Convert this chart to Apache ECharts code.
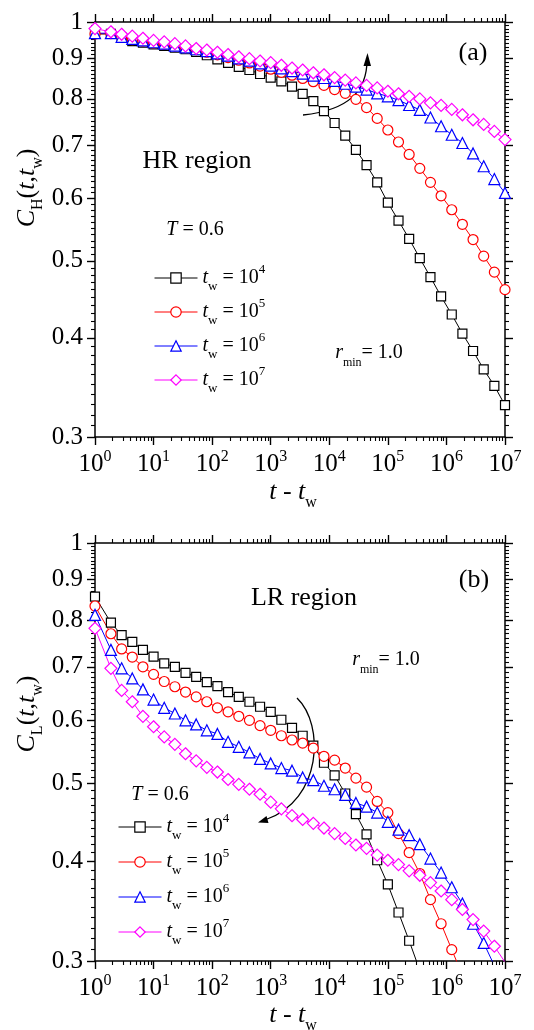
<!DOCTYPE html>
<html>
<head>
<meta charset="utf-8">
<script src="https://cdn.jsdelivr.net/npm/echarts@6/dist/echarts.min.js"></script>
<style>
html,body{margin:0;padding:0;background:#fff;}
#c{width:534px;height:1030px;}
</style>
</head>
<body>
<div id="c"></div>
<script>
// ---------- data ----------
const tValues = [1, 1.87, 2.85, 4.33, 6.58, 10, 15.2, 23.1, 35.1, 53.4, 81.1, 123, 187, 285, 433, 658,
  1000, 1520, 2310, 3511, 5337, 8111, 12328, 18738, 28480, 43288, 65793, 100000, 152000, 231000,
  351100, 533700, 811100, 1233000, 1874000, 2848000, 4329000, 6580000, 10000000];

// panel (a): HR region
const hrTw4 = [0.966,0.966,0.955,0.946,0.942,0.937,0.933,0.928,0.924,0.917,0.908,0.897,0.888,0.878,0.870,0.860,0.851,0.842,0.829,0.812,0.795,0.772,0.746,0.719,0.690,0.660,0.628,0.592,0.562,0.533,0.504,0.477,0.451,0.428,0.405,0.385,0.365,0.348,0.329];
const hrTw5 = [0.966,0.967,0.957,0.950,0.946,0.941,0.937,0.933,0.928,0.923,0.916,0.909,0.902,0.895,0.888,0.880,0.872,0.864,0.857,0.849,0.841,0.832,0.822,0.813,0.799,0.780,0.756,0.731,0.706,0.681,0.654,0.628,0.604,0.580,0.556,0.532,0.507,0.484,0.460];
const hrTw6 = [0.968,0.968,0.958,0.952,0.948,0.943,0.939,0.934,0.929,0.924,0.919,0.913,0.907,0.900,0.894,0.887,0.881,0.874,0.867,0.861,0.856,0.850,0.843,0.836,0.829,0.822,0.813,0.806,0.797,0.786,0.775,0.758,0.739,0.721,0.704,0.683,0.658,0.634,0.609];
const hrTw7 = [0.981,0.972,0.965,0.960,0.954,0.948,0.944,0.939,0.933,0.926,0.922,0.916,0.910,0.904,0.899,0.893,0.889,0.882,0.875,0.870,0.863,0.858,0.851,0.845,0.838,0.832,0.826,0.818,0.812,0.806,0.800,0.791,0.785,0.776,0.764,0.753,0.743,0.728,0.711];

// panel (b): LR region
const lrTw4 = [0.857,0.795,0.767,0.752,0.735,0.721,0.707,0.700,0.688,0.680,0.670,0.662,0.651,0.642,0.633,0.624,0.615,0.601,0.587,0.574,0.558,0.531,0.512,0.486,0.458,0.432,0.401,0.374,0.345,0.318,0.292];
const lrTw5 = [0.834,0.770,0.737,0.720,0.700,0.685,0.671,0.661,0.651,0.642,0.633,0.622,0.615,0.607,0.600,0.591,0.583,0.574,0.567,0.562,0.554,0.541,0.535,0.523,0.508,0.495,0.475,0.460,0.433,0.410,0.386,0.358,0.334,0.310,0.288];
const lrTw6 = [0.813,0.735,0.697,0.677,0.656,0.637,0.622,0.612,0.600,0.593,0.583,0.577,0.564,0.556,0.547,0.537,0.530,0.523,0.519,0.509,0.505,0.497,0.492,0.484,0.473,0.468,0.460,0.448,0.438,0.431,0.420,0.403,0.387,0.371,0.354,0.334,0.316,0.296];
const lrTw7 = [0.782,0.697,0.654,0.633,0.607,0.589,0.572,0.560,0.545,0.534,0.524,0.517,0.506,0.499,0.492,0.485,0.474,0.465,0.456,0.451,0.446,0.440,0.433,0.427,0.419,0.415,0.407,0.401,0.396,0.389,0.384,0.376,0.367,0.358,0.348,0.338,0.327,0.313,0.299];

const twExponents = ['4', '5', '6', '7'];
const xTickValues = [1, 10, 100, 1000, 10000, 100000, 1000000, 10000000];
const xTickExps = ['0', '1', '2', '3', '4', '5', '6', '7'];
const yTickValues = [0.3, 0.4, 0.5, 0.6, 0.7, 0.8, 0.9, 1];
const yTickLabels = ['0.3', '0.4', '0.5', '0.6', '0.7', '0.8', '0.9', '1'];

// ---------- styling ----------
const FONT = 'Liberation Serif';
const colors = ['#000000', '#ff0000', '#0000ff', '#ff00ff'];
const symbols = ['rect', 'circle', 'triangle', 'diamond'];
const symSizes = [9, 10, 11, 12];

const minorX = [];
for (let d = 0; d < 7; d++) for (let k = 2; k <= 9; k++) minorX.push(k * Math.pow(10, d));
const minorY = [];
for (let k = 31; k < 100; k++) if (k % 10 !== 0) minorY.push(k / 100);

const grids = [
  {left: 95, top: 22, width: 410, height: 415, containLabel: false, outerBoundsMode: 'none'},
  {left: 95, top: 543, width: 410, height: 418, containLabel: false, outerBoundsMode: 'none'}
];

const axisLineStyle = {color: '#000', width: 1.5};
const tickStyle = {color: '#000', width: 1.4};
const minorStyle = {color: '#000', width: 1.1};

function xAxesFor(g) {
  const base = {type: 'log', logBase: 10, min: 1, max: 1e7, gridIndex: g, splitLine: {show: false}, minorTick: {show: false}};
  return [
    Object.assign({}, base, {
      position: 'bottom',
      axisLine: {show: true, lineStyle: axisLineStyle},
      axisTick: {show: true, inside: false, length: 8, customValues: xTickValues, lineStyle: tickStyle},
      axisLabel: {
        show: true, margin: 12, customValues: xTickValues,
        formatter: function (v) {
          const i = xTickValues.findIndex(function (x) { return Math.abs(Math.log10(x) - Math.log10(v)) < 1e-6; });
          return '{b|10}{p|' + xTickExps[i] + '}';
        },
        rich: {
          b: {fontFamily: FONT, fontSize: 25, lineHeight: 30, color: '#000'},
          p: {fontFamily: FONT, fontSize: 16, lineHeight: 16, verticalAlign: 'top', color: '#000'}
        }
      }
    }),
    Object.assign({}, base, {
      position: 'bottom',
      axisLine: {show: false},
      axisTick: {show: true, inside: false, length: 4, customValues: minorX, lineStyle: minorStyle},
      axisLabel: {show: false}
    }),
    Object.assign({}, base, {
      position: 'top',
      axisLine: {show: true, lineStyle: axisLineStyle},
      axisTick: {show: true, inside: false, length: 8, customValues: xTickValues, lineStyle: tickStyle},
      axisLabel: {show: false}
    }),
    Object.assign({}, base, {
      position: 'top',
      axisLine: {show: false},
      axisTick: {show: true, inside: false, length: 4, customValues: minorX, lineStyle: minorStyle},
      axisLabel: {show: false}
    })
  ];
}

function yAxesFor(g) {
  const base = {type: 'log', logBase: 10, min: 0.3, max: 1, gridIndex: g, splitLine: {show: false}, minorTick: {show: false}};
  return [
    Object.assign({}, base, {
      position: 'left',
      axisLine: {show: true, lineStyle: axisLineStyle},
      axisTick: {show: true, inside: false, length: 8, customValues: yTickValues, lineStyle: tickStyle},
      axisLabel: {
        show: true, margin: 12, customValues: yTickValues,
        fontFamily: FONT, fontSize: 25, color: '#000',
        formatter: function (v) {
          const i = yTickValues.findIndex(function (x) { return Math.abs(x - v) < 1e-6; });
          return yTickLabels[i];
        }
      }
    }),
    Object.assign({}, base, {
      position: 'left',
      axisLine: {show: false},
      axisTick: {show: true, inside: false, length: 4, customValues: minorY, lineStyle: minorStyle},
      axisLabel: {show: false}
    }),
    Object.assign({}, base, {
      position: 'right',
      axisLine: {show: true, lineStyle: axisLineStyle},
      axisTick: {show: true, inside: false, length: 8, customValues: yTickValues, lineStyle: tickStyle},
      axisLabel: {show: false}
    }),
    Object.assign({}, base, {
      position: 'right',
      axisLine: {show: false},
      axisTick: {show: true, inside: false, length: 4, customValues: minorY, lineStyle: minorStyle},
      axisLabel: {show: false}
    })
  ];
}

function mkSeries(name, vals, k, g) {
  return {
    name: name, type: 'line',
    xAxisIndex: g * 4, yAxisIndex: g * 4,
    data: vals.map(function (v, i) { return [tValues[i], v]; }),
    symbol: symbols[k], symbolSize: symSizes[k], showAllSymbol: true,
    lineStyle: {color: colors[k], width: 1},
    itemStyle: {color: '#ffffff', borderColor: colors[k], borderWidth: 1.2},
    emphasis: {disabled: true},
    clip: true, animation: false
  };
}

const hrSets = [hrTw4, hrTw5, hrTw6, hrTw7];
const lrSets = [lrTw4, lrTw5, lrTw6, lrTw7];
const series = [];
const legendText = {};
for (let k = 0; k < 4; k++) {
  series.push(mkSeries('a' + twExponents[k], hrSets[k], k, 0));
  legendText['a' + twExponents[k]] = '{i|t}{w|w}{n| = 10}{p|' + twExponents[k] + '}';
}
for (let k = 0; k < 4; k++) {
  series.push(mkSeries('b' + twExponents[k], lrSets[k], k, 1));
  legendText['b' + twExponents[k]] = '{i|t}{w|w}{n| = 10}{p|' + twExponents[k] + '}';
}

const legRich = {
  i: {fontFamily: FONT, fontStyle: 'italic', fontSize: 20, lineHeight: 30, color: '#000'},
  n: {fontFamily: FONT, fontSize: 20, lineHeight: 30, color: '#000'},
  w: {fontFamily: FONT, fontSize: 13, lineHeight: 12, verticalAlign: 'bottom', color: '#000'},
  p: {fontFamily: FONT, fontSize: 13, lineHeight: 20, verticalAlign: 'top', color: '#000'}
};
function mkLegend(left, top, gap, names) {
  return {
    show: true, orient: 'vertical', left: left, top: top, itemWidth: 43, itemHeight: 13, itemGap: gap,
    selectedMode: false, padding: 0, data: names,
    itemStyle: {borderWidth: 1.2},
    lineStyle: {width: 1},
    formatter: function (n) { return legendText[n]; },
    textStyle: {fontFamily: FONT, fontSize: 20, color: '#000', rich: legRich}
  };
}

function richText(S) {
  return {
    i: {fontFamily: FONT, fontStyle: 'italic', fontSize: S, lineHeight: S + 12, fill: '#000'},
    n: {fontFamily: FONT, fontSize: S, lineHeight: S + 12, fill: '#000'},
    s: {fontFamily: FONT, fontSize: Math.round(S * 0.62), lineHeight: Math.round(S * 0.6), verticalAlign: 'bottom', fill: '#000'}
  };
}
function txt(x, y, text, S, rot) {
  return {
    type: 'text', x: x, y: y, rotation: rot || 0, silent: true,
    style: {text: text, rich: richText(S), fontFamily: FONT, fontSize: S, fill: '#000', align: 'center', verticalAlign: 'middle'}
  };
}
function plain(x, y, text, S) {
  return {type: 'text', x: x, y: y, silent: true,
    style: {text: text, fontFamily: FONT, fontSize: S, fill: '#000', align: 'center', verticalAlign: 'middle'}};
}

const graphics = [
  plain(473, 53, '(a)', 26),
  plain(197, 161, 'HR region', 26),
  txt(195, 230, '{i|T}{n| = 0.6}', 20),
  txt(369, 353, '{i|r}{s|min}{n|= 1.0}', 20),
  txt(293, 492, '{i|t}{n| - }{i|t}{s|w}', 26),
  txt(27, 188, '{i|C}{s|H}{n|(}{i|t}{n|,}{i|t}{s|w}{n|)}', 26, Math.PI / 2),
  {type: 'bezierCurve', silent: true,
   shape: {x1: 303, y1: 115, x2: 367, y2: 60, cpx1: 350, cpy1: 110, cpx2: 367, cpy2: 90},
   style: {stroke: '#000', lineWidth: 1.3, fill: null}},
  {type: 'polygon', silent: true, shape: {points: [[367.5, 53], [363.5, 66], [371, 66]]}, style: {fill: '#000'}},

  plain(474, 580, '(b)', 26),
  plain(304, 598, 'LR region', 26),
  txt(386, 660, '{i|r}{s|min}{n|= 1.0}', 20),
  txt(160, 795, '{i|T}{n| = 0.6}', 20),
  txt(293, 1015, '{i|t}{n| - }{i|t}{s|w}', 26),
  txt(27, 714, '{i|C}{s|L}{n|(}{i|t}{n|,}{i|t}{s|w}{n|)}', 26, Math.PI / 2),
  {type: 'bezierCurve', silent: true,
   shape: {x1: 297, y1: 698, x2: 266, y2: 819.5, cpx1: 325, cpy1: 725, cpx2: 322, cpy2: 800},
   style: {stroke: '#000', lineWidth: 1.3, fill: null}},
  {type: 'polygon', silent: true, shape: {points: [[258, 822.5], [268.5, 823], [266.5, 816]]}, style: {fill: '#000'}}
];

const option = {
  animation: false,
  backgroundColor: '#ffffff',
  grid: grids,
  xAxis: xAxesFor(0).concat(xAxesFor(1)),
  yAxis: yAxesFor(0).concat(yAxesFor(1)),
  legend: [
    mkLegend(154, 263, 4, ['a4', 'a5', 'a6', 'a7']),
    mkLegend(118, 812, 5, ['b4', 'b5', 'b6', 'b7'])
  ],
  series: series,
  graphic: graphics
};

const chart = echarts.init(document.getElementById('c'), null, {renderer: 'canvas', width: 534, height: 1030});
chart.setOption(option);
</script>
</body>
</html>
